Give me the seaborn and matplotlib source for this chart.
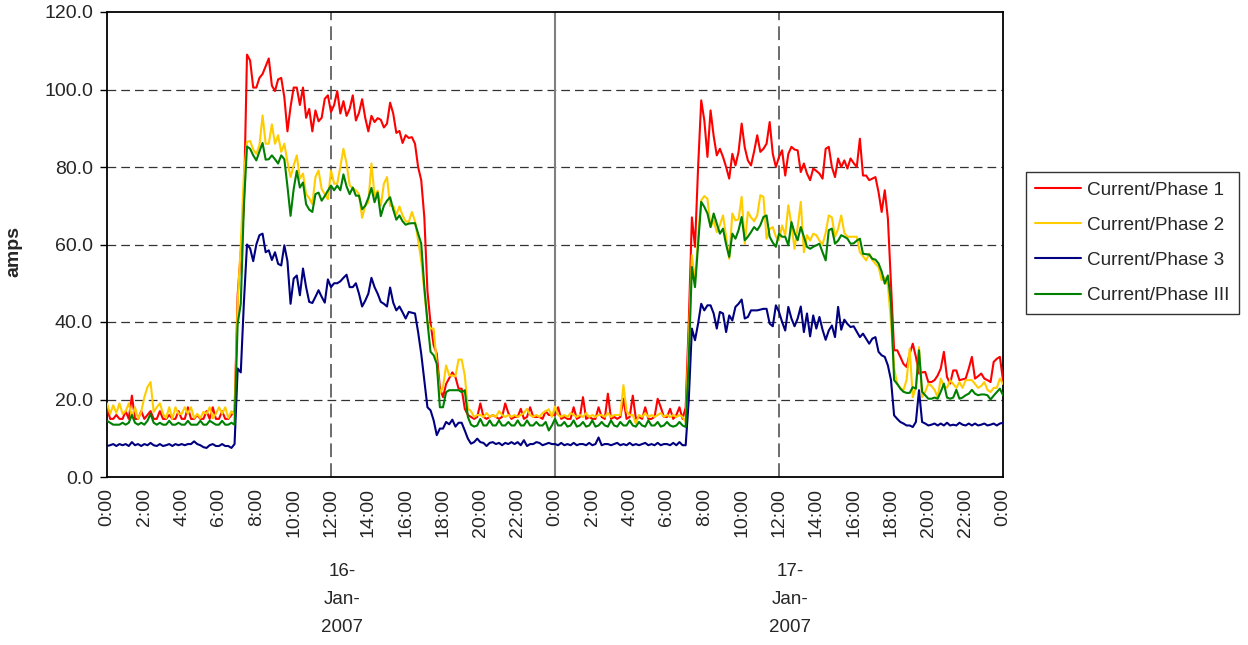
import numpy as np
import pandas as pd
import matplotlib
matplotlib.use("Agg")
import matplotlib.pyplot as plt
import matplotlib.transforms as mtransforms
import seaborn as sns

# ---------------- data (10-minute readings, 16-Jan-2007 00:00 .. 18-Jan-2007 00:00) ----------------
phase1 = [
    18, 15, 15, 16, 15, 15, 17, 15, 21, 15, 15, 17,
    15, 16, 17, 15, 15, 17, 15, 15, 16, 15, 15, 17,
    15, 15, 18, 15, 15, 16, 15, 15, 17, 15, 18, 15,
    15, 17, 15, 15, 16, 17, 47, 58, 70, 109, 107.5, 100.5,
    100.5, 103, 104, 106, 108, 101, 99.6, 102.6, 103, 98, 89.2, 95.5,
    100.5, 100.5, 96, 100.5, 92.7, 95, 89.2, 94.6, 91.8, 92.7, 97.6, 98.5,
    94.2, 96, 99.6, 93.8, 97, 93.2, 95, 98.5, 92, 94, 97.5, 92.7,
    89.2, 93.2, 91.6, 92.6, 92.2, 90.2, 91.2, 96.6, 93.8, 88.8, 89.3, 86.2,
    88.2, 87.5, 87.7, 86, 80, 76.6, 67, 48, 39.6, 34, 31.8, 23,
    20.6, 24, 25.5, 27, 25.8, 22.8, 22.8, 17.6, 16, 15.5, 15, 15.5,
    19, 15.5, 15, 15.5, 16, 15.5, 15, 15.5, 19, 16.5, 15, 15.5,
    15.5, 17.6, 15, 15.5, 18, 15.5, 15.5, 15.5, 15, 17, 16, 16,
    16, 18, 15, 15.5, 15, 15, 18, 15, 15.5, 20.6, 15, 15.5,
    15, 15, 18, 15.5, 15, 21.5, 15, 15.5, 15, 15.5, 20.2, 15,
    15.5, 21, 15, 15.5, 15, 18, 15, 15, 15.5, 20.2, 18, 15.5,
    15.5, 17.6, 15, 16, 18, 15, 17.9, 40, 67, 59.4, 80, 97.2,
    92, 82.6, 94.6, 88, 83, 84.7, 82.6, 80, 77, 83.4, 80.4, 83.9,
    91.2, 85, 81.7, 80.4, 84, 88.2, 83.9, 84.7, 86, 91.6, 83.4, 80,
    82.6, 84.3, 77.8, 83.4, 85.2, 84.5, 84.3, 78.7, 80.9, 78.3, 76.6, 79.6,
    79, 78.3, 77, 84.7, 85.2, 80, 77.4, 82.2, 80, 81.7, 79.6, 82.2,
    81, 80, 87.3, 77.8, 77.8, 76.6, 77, 77.4, 73.5, 68.4, 74, 66.7,
    49.9, 32.7, 32.7, 31, 29.2, 28.4, 31.8, 34.4, 31, 26.7, 27, 27.1,
    24.5, 24.5, 25, 26.2, 28, 32.3, 25.8, 24.1, 27.5, 27.5, 25, 25.2,
    25.4, 28, 31, 25.4, 26, 26.7, 25.4, 25, 24.5, 29.7, 30.5, 31,
    25,
]

phase2 = [
    19, 16.3, 18.5, 16.5, 19, 16.3, 17, 19, 15.5, 18, 15, 16.8,
    20.6, 23.2, 24.5, 16.8, 18, 19, 16.3, 15.2, 18, 15, 18, 16.3,
    16.3, 18, 16.3, 18, 15.2, 16.3, 15.2, 16.8, 16.3, 18, 15.2, 16.3,
    18, 16.3, 18, 15.2, 17, 16, 45, 60, 78, 86.5, 86.7, 84.5,
    83.4, 85.6, 93.3, 86, 86, 91, 86, 88.2, 83.9, 86, 81.3, 77.4,
    80.4, 83, 77, 78.3, 73, 72, 70.4, 77.4, 79.1, 74.3, 73, 71.7,
    79.1, 75.7, 75.7, 80, 84.7, 80.9, 75.3, 74.5, 74, 73, 66.9, 70,
    70.9, 80.9, 72.6, 73.9, 70, 75.7, 77.4, 70, 70, 67.7, 69.8, 67.5,
    66, 65.8, 68.4, 66, 61.1, 55.9, 48, 40, 38.3, 38.3, 29.2, 21.5,
    23.2, 28.8, 26.2, 26.2, 26, 30.3, 30.3, 26.2, 17.6, 17, 15.5, 16,
    16, 15.5, 16.5, 15.5, 16, 15.5, 17, 16, 15.5, 16, 15.5, 16,
    15.5, 16, 16.5, 17.6, 16, 15.5, 16, 15.5, 16.5, 17, 17.5, 15.5,
    18.2, 16, 15.5, 16, 15.5, 16.5, 16, 15.5, 16, 15.5, 16.5, 15.5,
    16, 15.5, 16, 16, 15.5, 16.5, 15.5, 16, 16, 16, 23.7, 17,
    16, 16, 13.8, 16, 15.5, 16.5, 15.5, 16, 15.5, 16, 16.5, 15.5,
    16, 15.5, 16, 15.5, 16, 15.5, 14.2, 35, 57.2, 50.5, 62, 71.4,
    72.5, 71.8, 64.5, 66.2, 63.2, 65, 67.5, 62, 56.3, 68, 66.2, 66.5,
    72.3, 60.2, 68.4, 67, 66, 67.5, 72.7, 72.3, 61.5, 64, 64.5, 62,
    61.1, 64.9, 62.4, 70.1, 65, 58.9, 64.5, 71, 58, 62.4, 61, 62.8,
    62.4, 61, 60, 63, 67.5, 67, 62, 64, 67.5, 63, 62, 62,
    62, 62, 58, 57, 55.9, 57.6, 56, 55, 54.2, 50.8, 51.5, 49.5,
    40, 28, 24.1, 23, 22.4, 25, 33.1, 20.6, 23.2, 33.5, 20.6, 22,
    24.1, 23.5, 22.5, 20.6, 25.4, 23.5, 23, 25, 24, 23, 24.5, 23,
    25, 25, 25, 24, 23, 23.5, 24.5, 22.5, 21.9, 23, 23, 25.4,
    24,
]

phase3 = [
    8, 8.2, 8.5, 8, 8.5, 8.2, 8.5, 8, 9, 8.2, 8.5, 8,
    8.5, 8.2, 8.8, 8.2, 8, 8.5, 8, 8.2, 8.5, 8, 8.5, 8.2,
    8.5, 8.2, 8.5, 8.5, 9.2, 8.5, 8.2, 7.7, 7.5, 8.2, 8.5, 8,
    8, 8.5, 8, 8, 7.5, 8.5, 28, 27, 45, 60, 59, 55.7,
    60, 62.4, 62.8, 58, 58.5, 56, 58, 55, 54.6, 59.8, 55.7, 44.7,
    51.2, 52, 46.9, 53.8, 49, 45.2, 44.9, 46.5, 48.2, 46.5, 45, 51,
    49, 50, 50, 50.5, 51.4, 52.2, 49, 49, 50, 47.3, 44, 45.5,
    47.3, 51.4, 49, 47.3, 45.2, 44.7, 44, 48.9, 45, 43, 44, 42.5,
    40.9, 42.6, 42.4, 42.2, 37.4, 31.8, 25, 18, 17.2, 14.6, 10.8, 12.5,
    12.5, 14.2, 13.6, 14.8, 13, 14, 14, 12, 9.9, 8.6, 9, 9.9,
    9, 8.8, 8, 8.8, 9, 8.5, 8.8, 8.2, 8.8, 8.5, 9, 8.5,
    9, 8.2, 9.5, 8, 8.5, 8.5, 9, 8.8, 8.2, 8.5, 8.8, 8.5,
    8.5, 8.2, 8.8, 8.2, 8.5, 8.2, 8.8, 8.2, 8.5, 8.5, 8.2, 8.8,
    8.2, 8.5, 10.2, 8.2, 8.5, 8.5, 8.2, 8.5, 8.8, 8.2, 8.5, 8.2,
    8.8, 8.2, 8.5, 8.2, 8.5, 8.8, 8.2, 8.5, 8.2, 8.8, 8.2, 8.5,
    8.5, 8.2, 8.8, 8.2, 9, 8.2, 8.2, 20, 38.3, 35.3, 39.6, 44.7,
    43, 44.3, 44.3, 42.2, 38.3, 42.6, 42.2, 37.4, 41.7, 40.4, 43.9, 44.7,
    45.8, 40.9, 41.3, 43, 43, 43, 43.2, 43.4, 43.4, 39.6, 38.9, 44.3,
    42.6, 40, 37.8, 43.9, 40.9, 38.9, 40.9, 44, 37.4, 42.2, 36.3, 41.7,
    38.3, 41.3, 38, 35.4, 37.8, 39.1, 36.1, 43.9, 38, 40.6, 39.5, 38.7,
    38.9, 37.5, 36.1, 37, 35.7, 34.4, 35.7, 36.1, 32.3, 31.4, 31, 28.8,
    25, 15.9, 15, 14.2, 13.8, 13.3, 13.3, 12.9, 14.2, 22.4, 14.2, 13.8,
    13.3, 13.5, 13.8, 13.3, 13.8, 13.3, 14, 13.3, 13.5, 13.3, 14, 13.5,
    13.3, 13.8, 13.3, 13.8, 13.3, 13.5, 13.8, 13.3, 13.5, 13.8, 13.3, 13.8,
    14,
]

phase_iii = [
    14.5, 14, 13.5, 13.5, 13.5, 14, 13.5, 14, 16, 14, 13.5, 14,
    13.5, 14.5, 16.3, 14, 13.5, 14, 13.5, 13.5, 14.5, 13.5, 13.5, 14,
    13.5, 13.5, 14.5, 13.5, 13.5, 13.5, 14.5, 13.5, 13.5, 14.5, 14, 13.5,
    13.5, 14.5, 13.5, 13.5, 14, 13.5, 39.6, 44.7, 70, 85.3, 84.7, 83,
    81.7, 84, 86.2, 81.9, 82, 83, 82, 80.9, 83, 82, 75, 67.4,
    74.3, 79, 74.7, 76, 70.4, 69, 68.4, 73, 73.4, 71.3, 72.5, 73.9,
    75.2, 74, 75.2, 74, 78.1, 75, 73, 74.7, 72.6, 72.6, 69.1, 70,
    72, 74.6, 70.9, 73.4, 67.3, 70, 71.3, 72.2, 69, 66.4, 67.5, 66,
    65.1, 65.4, 65.5, 65.5, 62.8, 60.2, 49, 40, 32.3, 31.4, 29.2, 18,
    18, 21.9, 22.4, 22.4, 22.4, 22.4, 21.9, 22.4, 15.5, 13.5, 13, 13.3,
    15, 13.3, 13.3, 14.6, 13.3, 13.3, 14.6, 13.3, 13.3, 14.2, 13.3, 13.3,
    14.6, 13.3, 13.3, 14.6, 13.3, 13.3, 14.2, 13.3, 13.3, 14.2, 12, 13.3,
    15, 13.3, 13.3, 14.2, 13, 13.3, 14.6, 13, 13.3, 14.2, 13, 13.3,
    14.6, 13, 13.3, 14.2, 13.3, 13, 14.6, 13.3, 13, 14.2, 13.3, 13.3,
    14.6, 13.3, 13, 14.2, 13.3, 13, 14.6, 13.3, 13.3, 14.2, 13, 13.3,
    14.2, 13.3, 13, 13.3, 14.2, 13.3, 12.9, 30, 54.2, 49, 60, 71,
    69.7, 68, 64.5, 68, 65.4, 62.8, 64.1, 60, 56.8, 62.8, 61.5, 63.7,
    67.1, 61.1, 62, 63.2, 64.5, 63.7, 65, 67.1, 67.5, 62, 60.5, 59.4,
    62.8, 62, 62, 59.8, 65.8, 63, 61.1, 64.5, 62, 59.4, 58.9, 59.4,
    59.8, 60.2, 58, 55.9, 63.7, 64.1, 60.2, 61, 62.4, 62, 61.5, 60.2,
    60.3, 61, 61.5, 57.6, 57.5, 57.4, 56.3, 56.1, 55.1, 53, 49.9, 52,
    45, 25, 24, 22.8, 22, 21.7, 21.7, 23.2, 22.8, 32.7, 22, 21.1,
    20.2, 20.2, 20.5, 20.2, 22, 24.1, 20.5, 20.2, 20.5, 22.5, 20.2, 20.5,
    21.1, 21.5, 22.5, 21.5, 21.1, 21.3, 21.3, 21.1, 20, 21, 21.9, 22.8,
    21.1,
]

series_names = ["Current/Phase 1", "Current/Phase 2", "Current/Phase 3", "Current/Phase III"]
series_colors = ["#FF0000", "#FFCC00", "#000080", "#008000"]
x_tick_hours = list(range(0, 49, 2))
x_tick_labels = [f"{h % 24}:00" for h in x_tick_hours]
y_ticks = [0, 20, 40, 60, 80, 100, 120]
y_tick_labels = [f"{v:.1f}" for v in y_ticks]
day_labels = [["16-", "Jan-", "2007"], ["17-", "Jan-", "2007"]]
day_midpoints = [12, 36]
y_label = "amps"

# ---------------- long-form table ----------------
n = len(phase1)
hours = np.arange(n) / 6.0
frames = []
for name, vals in zip(series_names, [phase1, phase2, phase3, phase_iii]):
    frames.append(pd.DataFrame({"time": hours, "amps": vals, "series": name}))
df = pd.concat(frames, ignore_index=True)

# ---------------- styling ----------------
sns.set_style("white")
plt.rcParams["font.family"] = ["Liberation Sans", "DejaVu Sans"]

W, H = 1248, 645
fig = plt.figure(figsize=(W / 100, H / 100), dpi=100)
left, right, top, bottom = 107, 1003, 12, 477
ax = fig.add_axes([left / W, 1 - bottom / H, (right - left) / W, (bottom - top) / H])

sns.lineplot(data=df, x="time", y="amps", hue="series", hue_order=series_names,
             palette=series_colors, linewidth=1.5, errorbar=None, sort=False,
             ax=ax, zorder=3)

ax.set_xlim(0, 48)
ax.set_ylim(0, 120)

# horizontal dashed gridlines
for v in y_ticks[1:-1]:
    ax.axhline(v, color="#333333", linewidth=0.9, linestyle=(0, (7, 4)), zorder=1)
# vertical reference lines
for d in day_midpoints:
    ax.axvline(d, color="#444444", linewidth=1.1, linestyle=(0, (9, 4)), zorder=1)
ax.axvline(24, color="#808080", linewidth=1.5, linestyle="-", zorder=1)

ax.set_yticks(y_ticks)
ax.set_yticklabels(y_tick_labels)
ax.set_xticks(x_tick_hours)
ax.set_xticklabels(x_tick_labels, rotation=90)
ax.tick_params(axis="y", direction="out", length=5, width=1, color="black",
               labelsize=14, pad=5, left=True)
ax.tick_params(axis="x", length=0, labelsize=14, pad=8, bottom=True)

for s in ax.spines.values():
    s.set_visible(True)
    s.set_color("black")
    s.set_linewidth(1.3)

ax.set_xlabel("")
ax.set_ylabel(y_label, fontsize=14, fontweight="bold")
ax.yaxis.set_label_coords(-0.094, 0.486)

# date labels under the time ticks
trans = mtransforms.blended_transform_factory(ax.transData, fig.transFigure)
line_y = [1 - 571 / H, 1 - 599 / H, 1 - 627 / H]
for mid, lines in zip(day_midpoints, day_labels):
    for ty, txt in zip(line_y, lines):
        ax.text(mid + 0.6, ty, txt, transform=trans, ha="center", va="center",
                fontsize=13.5)

# legend
handles, labels = ax.get_legend_handles_labels()
leg = ax.legend(handles, labels, loc="upper left",
                bbox_to_anchor=(1026 / W, 1 - 172 / H), bbox_transform=fig.transFigure,
                frameon=True, fancybox=False, shadow=False, fontsize=13.6,
                handlelength=2.4, handletextpad=0.35, labelspacing=0.95,
                borderpad=0.5, borderaxespad=0)
leg.get_frame().set_edgecolor("black")
leg.get_frame().set_linewidth(1.0)
for line in leg.get_lines():
    line.set_linewidth(1.5)

fig.savefig("out.png", dpi=100)
